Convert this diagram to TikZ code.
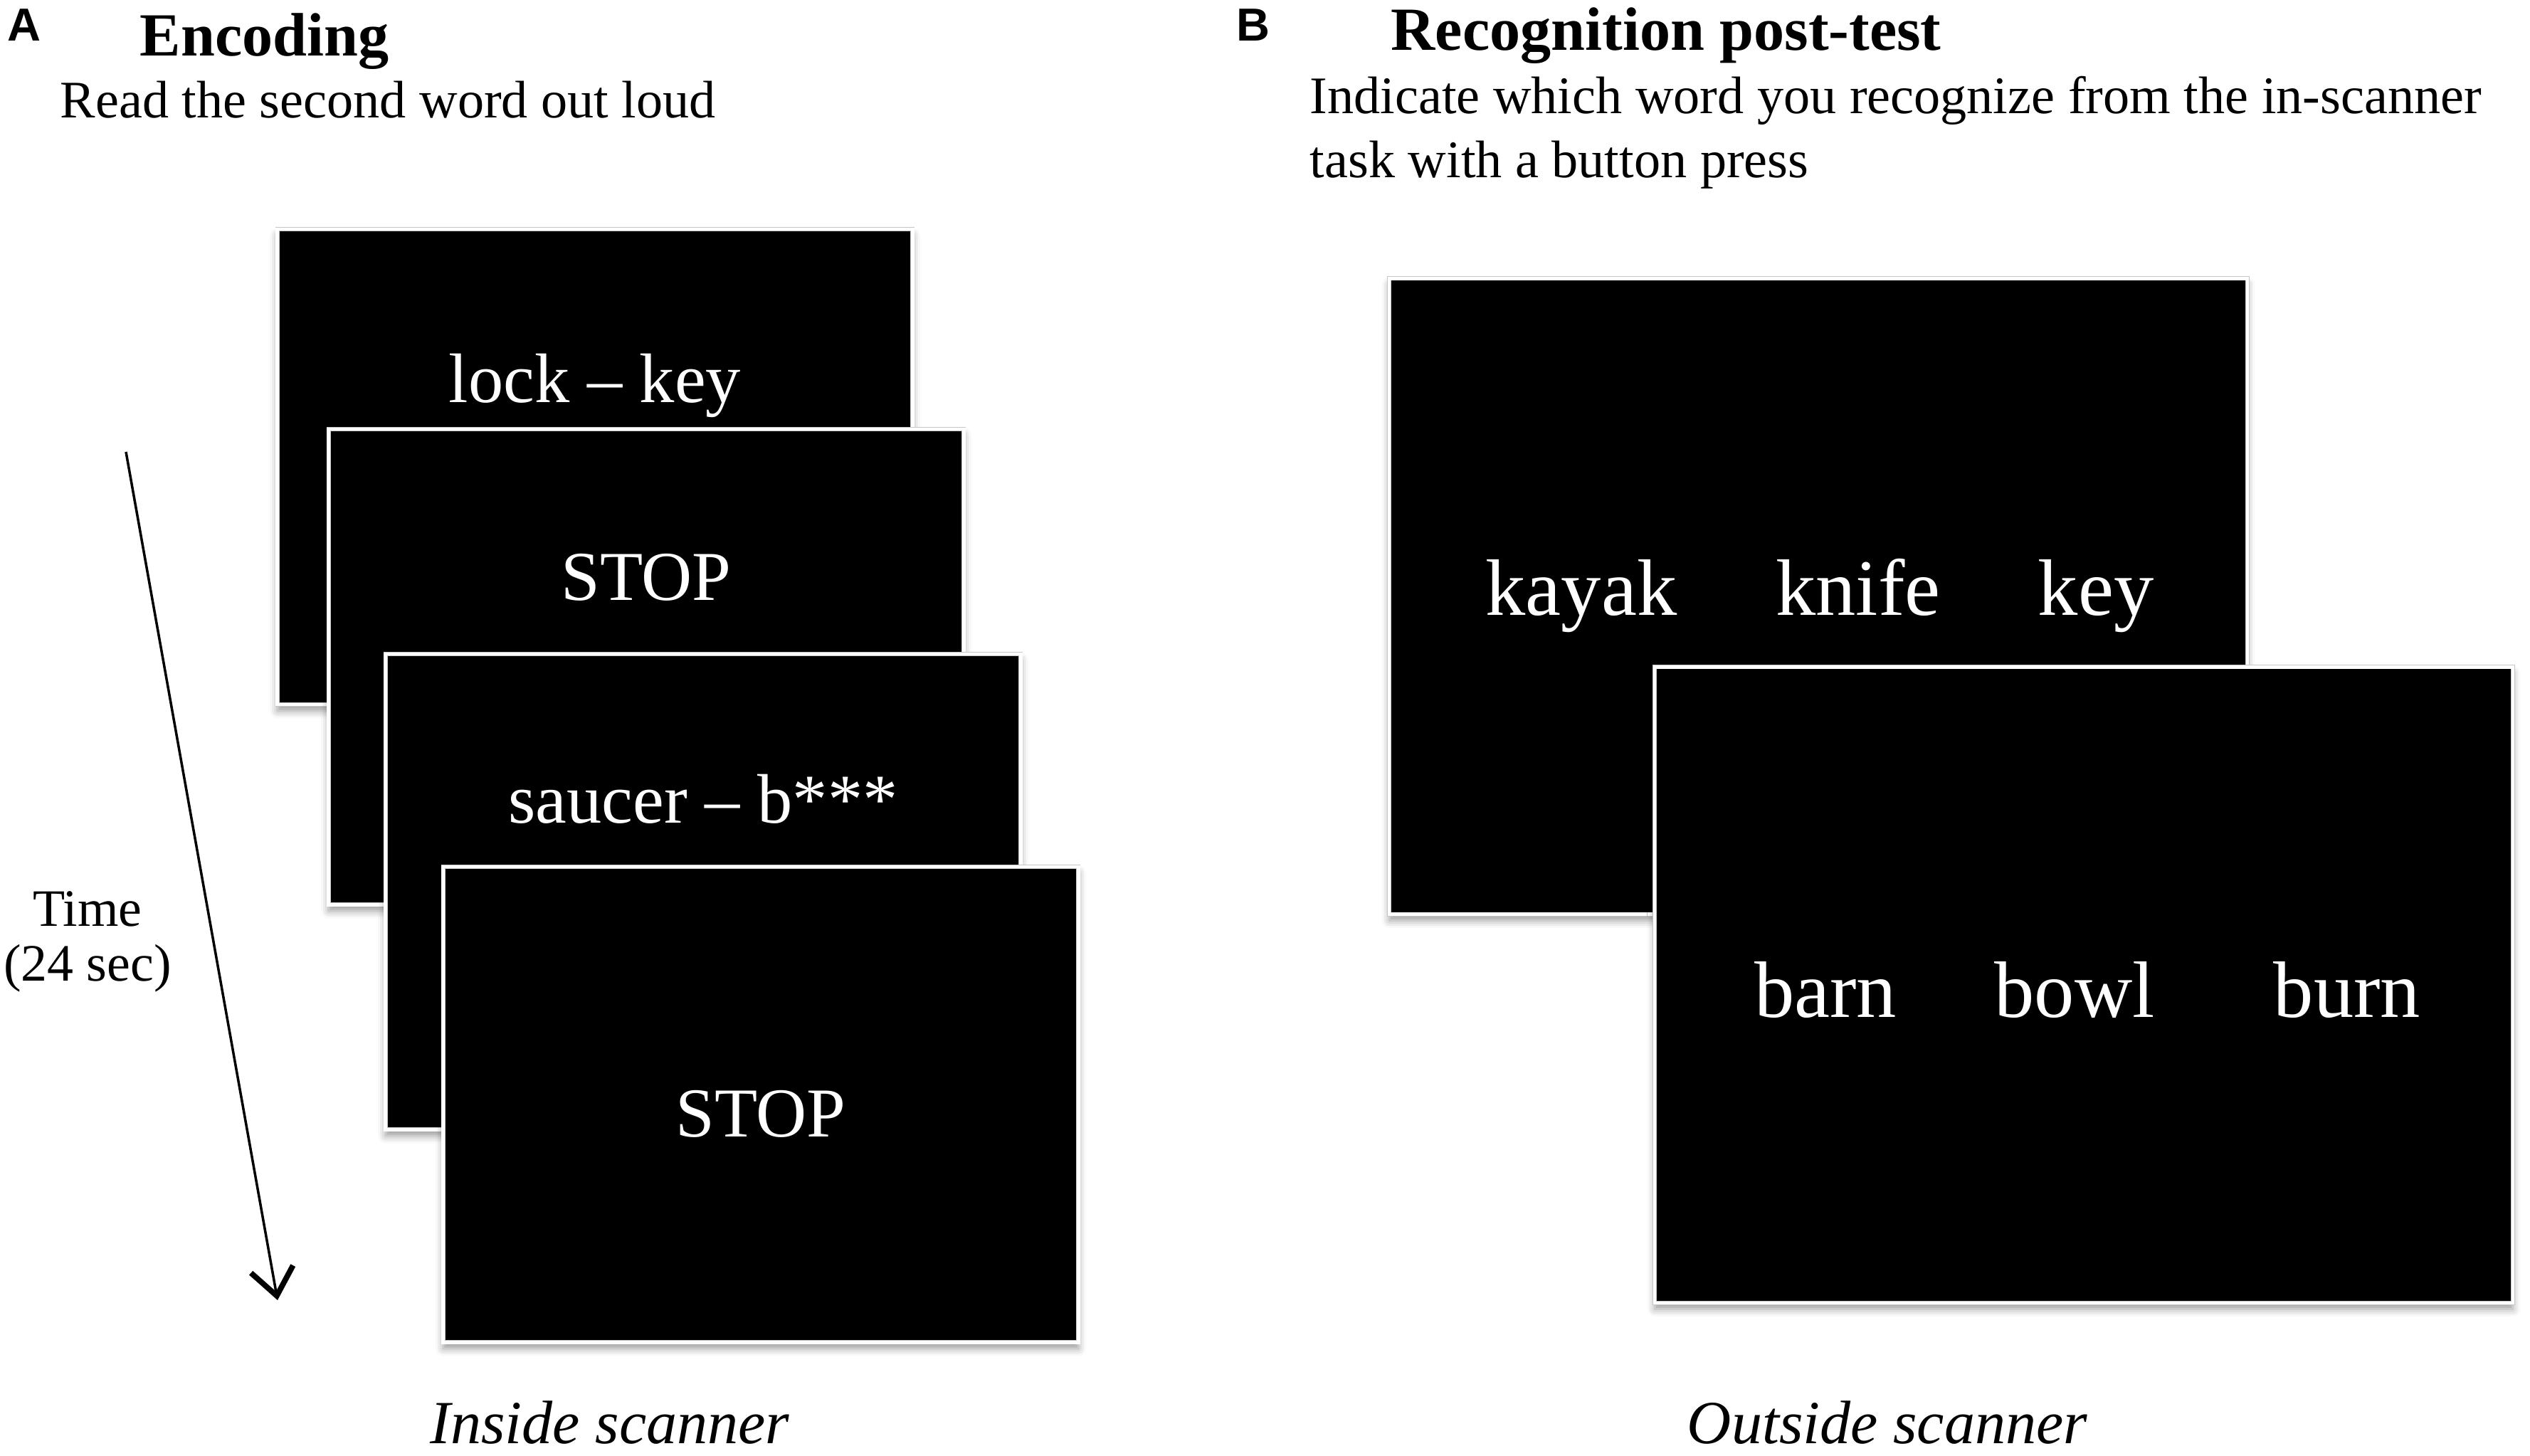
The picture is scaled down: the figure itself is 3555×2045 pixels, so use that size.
\documentclass[tikz,border=0pt]{standalone}
\usepackage{fontspec}
\setmainfont{Liberation Serif}
\newfontfamily\panelfont{Liberation Sans}
\usetikzlibrary{positioning,arrows.meta,shadows.blur}

\begin{document}
\begin{tikzpicture}[x=0.01cm,y=-0.01cm,>={Straight Barb[length=3.8mm,width=6mm,line width=2.2pt]}]
  \tikzstyle{screen}=[fill=black,draw=gray!45,double=white,double distance=1.3pt,line width=0.25pt,inner sep=0pt,
    blur shadow={shadow xshift=0pt,shadow yshift=-2.5pt,shadow blur radius=3pt,shadow opacity=40}]
  \tikzstyle{small screen}=[screen,minimum width=8.92cm,minimum height=6.68cm]
  \tikzstyle{big screen}=[screen,minimum width=12.05cm,minimum height=8.93cm]
  \tikzstyle{word}=[text=white,font=\fontsize{28}{34}\selectfont,anchor=base,inner sep=0pt]
  \tikzstyle{choice}=[word,font=\fontsize{32}{38}\selectfont]
  \tikzstyle{panel}=[font=\panelfont\bfseries\fontsize{18.5}{22}\selectfont,anchor=base west,inner sep=0pt]
  \tikzstyle{heading}=[font=\bfseries\fontsize{24.5}{29}\selectfont,anchor=base west,inner sep=0pt]
  \tikzstyle{instr}=[font=\fontsize{21.1}{25.5}\selectfont,inner sep=0pt]
  \tikzstyle{caption}=[font=\itshape\fontsize{24.5}{29}\selectfont,anchor=base,inner sep=0pt]

  \useasboundingbox (0,0) rectangle (3555,2045);

  % Panel A: encoding
  \node[panel] (A) at (10,57) {A};
  \node[heading] (enc) at (196,78) {Encoding};
  \node[instr,anchor=base west] (read) at (84,165) {Read the second word out loud};

  \node[small screen] (lockkey) at (836,656) {};
  \node[small screen] (stop1) at (908,937) {};
  \node[small screen] (saucer) at (988,1253) {};
  \node[small screen] (stop2) at (1069,1552) {};

  \node[word] (w1) at (836,565) {lock – key};
  \node[word] (w2) at (908,843) {STOP};
  \node[word] (w3) at (988,1156) {saucer – b***};
  \node[word] (w4) at (1069,1597) {STOP};

  % Time arrow
  \coordinate (tstart) at (177,635);
  \coordinate (tend) at (390,1827);
  \draw[->,line width=1pt] (tstart) -- (tend);
  \node[instr,align=center,anchor=north,font=\fontsize{21}{22}\selectfont] (time) at (123,1252) {Time\\(24 sec)};

  \node[caption] (inside) at (857,2028) {Inside scanner};

  % Panel B: recognition
  \node[panel] (B) at (1737,57) {B};
  \node[heading] (recog) at (1954,70) {Recognition post-test};
  \node[instr,align=left,anchor=north west] (indicate) at (1840,107)
    {Indicate which word you recognize from the in-scanner\\task with a button press};

  \node[big screen] (oldnew) at (2555,838) {};
  \node[big screen] (lure) at (2928,1384) {};

  \node[choice] (kayak) at (2222,864) {kayak};
  \node[choice] (knife) at (2611,864) {knife};
  \node[choice] (key) at (2945,864) {key};
  \node[choice] (barn) at (2565,1429) {barn};
  \node[choice] (bowl) at (2915,1429) {bowl};
  \node[choice] (burn) at (3298,1429) {burn};

  \node[caption] (outside) at (2652,2028) {Outside scanner};
\end{tikzpicture}
\end{document}
